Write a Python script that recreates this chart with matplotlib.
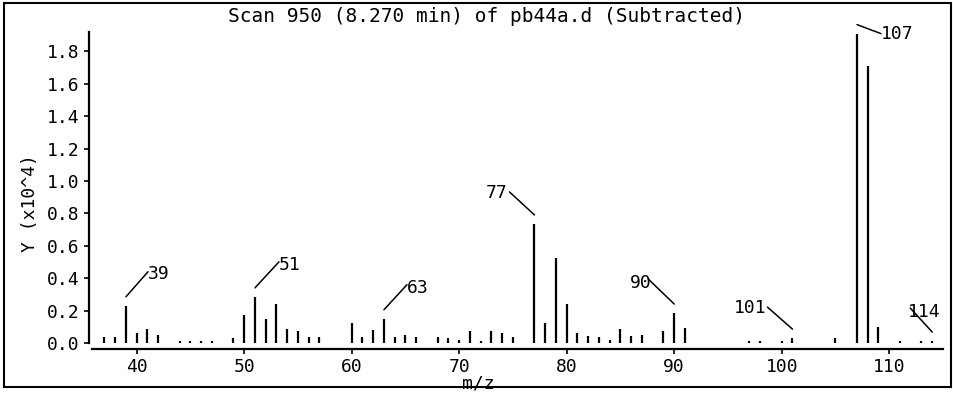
import matplotlib.pyplot as plt
import matplotlib.patches as patches
from matplotlib.transforms import offset_copy

# Spectrum: m/z and abundance (x10^4)
mz = [37, 38, 39, 40, 41, 42, 44, 45, 46, 47, 49, 50, 51, 52, 53, 54, 55, 56, 57,
      60, 61, 62, 63, 64, 65, 66, 68, 69, 70, 71, 72, 73, 74, 75,
      77, 78, 79, 80, 81, 82, 83, 84, 85, 86, 87, 89, 90, 91,
      97, 98, 100, 101, 105, 107, 108, 109, 111, 113, 114]
abundance = [0.037, 0.037, 0.23, 0.06, 0.086, 0.05, 0.012, 0.012, 0.012, 0.015,
             0.03, 0.17, 0.285, 0.15, 0.24, 0.085, 0.075, 0.035, 0.04,
             0.125, 0.04, 0.08, 0.15, 0.04, 0.05, 0.04, 0.04, 0.03, 0.02, 0.075,
             0.01, 0.075, 0.06, 0.04,
             0.735, 0.125, 0.525, 0.24, 0.06, 0.045, 0.035, 0.02, 0.085, 0.045,
             0.05, 0.075, 0.185, 0.09,
             0.01, 0.01, 0.01, 0.03, 0.03, 1.91, 1.71, 0.1, 0.012, 0.012, 0.012]

labelled = [39, 51, 63, 77, 90, 101, 107, 114]
x_ticks = [40, 50, 60, 70, 80, 90, 100, 110]
y_ticks = [0.0, 0.2, 0.4, 0.6, 0.8, 1.0, 1.2, 1.4, 1.6, 1.8]

# leader line end / text position, pixels from a point just above the peak
line_end = {39: (22, 25), 51: (24, 26), 63: (23, 25), 77: (-25, 23),
            90: (-26, 25), 101: (-25, 22), 107: (24, -9), 114: (-22, 24)}
text_pos = {39: (22, 23, 'left'), 51: (24, 23, 'left'), 63: (23, 22, 'left'),
            77: (-27, 22, 'right'), 90: (-23, 21, 'right'), 101: (-26, 21, 'right'),
            107: (24, -9, 'left'), 114: (-24, 20, 'left')}

plt.rcParams['font.family'] = ['DejaVu Sans Mono']
fs = 13

fig = plt.figure(figsize=(9.54, 3.94), dpi=100)
ax = fig.add_axes([92 / 954, 45 / 394, 851 / 954, 317 / 394])

ax.vlines(mz, 0, abundance, color='black', linewidth=1.6)

ax.set_xlim(35.84, 115.0)
ax.set_ylim(-0.037, 1.92)
ax.set_xticks(x_ticks)
ax.set_yticks(y_ticks)
ax.set_yticklabels(["%.1f" % v for v in y_ticks])
ax.tick_params(axis='both', direction='out', length=3.5, width=1.2,
               labelsize=fs, pad=3, colors='black')

for s in ['top', 'right']:
    ax.spines[s].set_visible(False)
ax.spines['left'].set_bounds(0, 1.92)
ax.spines['left'].set_position(('outward', 2.2))
ax.spines['left'].set_linewidth(1.6)
ax.spines['bottom'].set_linewidth(1.6)

lookup = dict(zip(mz, abundance))
anchor = offset_copy(ax.transData, fig=fig, x=0, y=9, units='dots')
for m in labelled:
    h = lookup[m]
    ax.annotate('', xy=(m, h), xycoords=anchor, xytext=line_end[m],
                textcoords='offset pixels',
                arrowprops=dict(arrowstyle='-', color='black', lw=1.1,
                                shrinkA=0, shrinkB=0))
    dx, dy, ha = text_pos[m]
    ax.annotate(str(m), xy=(m, h), xycoords=anchor, xytext=(dx, dy),
                textcoords='offset pixels', ha=ha, va='center', fontsize=fs)

fig.text(487 / 954, 1 - 16.5 / 394, "Scan 950 (8.270 min) of pb44a.d (Subtracted)",
         ha='center', va='center', fontsize=14)
fig.text(478 / 954, 1 - 384 / 394, "m/z", ha='center', va='center', fontsize=fs)
fig.text(30 / 954, 1 - 203 / 394, "Y (x10^4)", rotation=90,
         ha='center', va='center', fontsize=fs)

# frame round the whole plot
fig.patches.append(patches.Rectangle((4.5 / 954, 7 / 394), 946.5 / 954, 384 / 394,
                                     transform=fig.transFigure, fill=False,
                                     edgecolor='black', linewidth=1.5))

fig.savefig("out.png", dpi=100)
